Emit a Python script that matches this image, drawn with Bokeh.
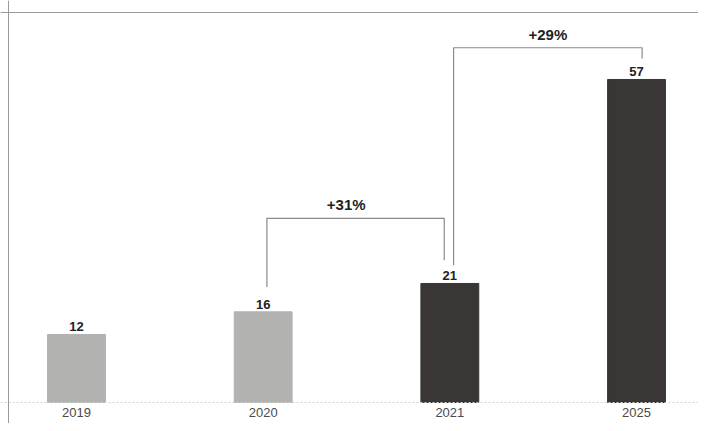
from bokeh.plotting import figure
from bokeh.models import Span, ColumnDataSource
from bokeh.core.properties import value
from bokeh.embed import file_html
from bokeh.resources import INLINE

# ---- data ----
years = ["2019", "2020", "2021", "2025"]
values = [12, 16, 21, 57]
bar_colors = ["#b2b2b0", "#b2b2b0", "#3a3636", "#3a3636"]
# growth brackets: from index, to index, label, bracket level
bracket_from = [1, 2]
bracket_to = [2, 3]
bracket_labels = ["+31%", "+29%"]
bracket_levels = [32.5, 62.6]

FONT = "Liberation Sans"

xs = list(range(len(years)))
p = figure(width=698, height=423, x_range=(-0.407, 3.332), y_range=(-3.71, 70.94),
           output_backend="svg", toolbar_location=None,
           x_axis_location=None, y_axis_location=None,
           min_border_left=0, min_border_right=0, min_border_top=0, min_border_bottom=0)
p.grid.visible = False
p.outline_line_color = None
p.background_fill_color = "white"
p.border_fill_color = "white"

src = ColumnDataSource(dict(x=xs, top=values, color=bar_colors,
                            lab=[str(v) for v in values], year=years,
                            zero=[0] * len(xs)))
p.vbar(x="x", top="top", width=0.31, color="color", source=src)

# faint baseline
p.add_layout(Span(location=0, dimension="width", line_color="#d2d2d2",
                  line_width=1, line_dash="2 2"))
# frame lines (scan page border)
p.add_layout(Span(location=68.82, dimension="width", line_color="#9a9a9a", line_width=1))
p.add_layout(Span(location=-0.364, dimension="height", line_color="#9a9a9a", line_width=1))

# value labels
p.text(x="x", y="top", text="lab", source=src, text_align="center",
       text_baseline="bottom", y_offset=-3, text_font=value(FONT),
       text_font_size="13px", text_font_style="bold", text_color="#222222")

# year labels
p.text(x="x", y="zero", text="year", source=src, text_align="center",
       text_baseline="top", y_offset=6, text_font=value(FONT),
       text_font_size="13px", text_color="#4a4a4a")

# brackets
bx, by, lx, ly = [], [], [], []
for f, t, lvl in zip(bracket_from, bracket_to, bracket_levels):
    x_left = f + 0.02
    x_right = t - 0.03 if t == 2 else t + 0.03
    y_left = values[f] + 4.4 if f == 1 else values[f] + 3.2
    y_right = values[t] + 4.1 if t == 2 else values[t] + 3.7
    bx.append([x_left, x_left, x_right, x_right])
    by.append([y_left, lvl, lvl, y_right])
    lx.append((x_left + x_right) / 2 - (0.05 if f == 1 else 0))
    ly.append(lvl)
p.multi_line(xs=bx, ys=by, line_color="#8a8a8a", line_width=1.2)
p.text(x=lx, y=ly, text=bracket_labels, text_align="center", text_baseline="bottom",
       y_offset=-5, text_font=value(FONT), text_font_size="15px",
       text_font_style="bold", text_color="#222222")

open("out.html", "w").write(file_html(p, INLINE))
